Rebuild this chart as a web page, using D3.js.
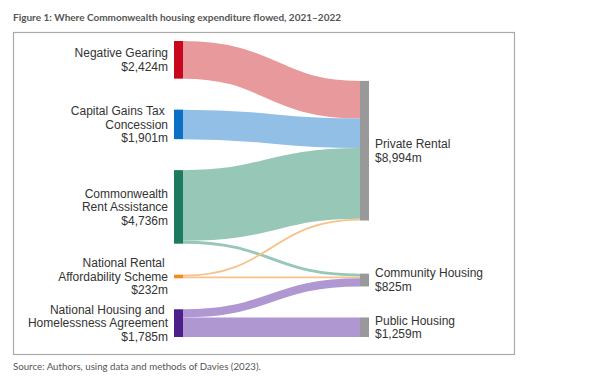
<!DOCTYPE html>
<html>
<head>
<meta charset="utf-8">
<script src="https://cdn.jsdelivr.net/npm/d3@7"></script>
<style>
  body { margin: 0; background: #fff; }
  svg { display: block; }
  .lbl { font-family: "Liberation Sans", Arial, sans-serif; font-size: 12px; fill: #333; white-space: pre; }
</style>
</head>
<body>
<svg id="chart" width="604" height="378"></svg>
<script>
// Data
const sourceNames = ["Negative Gearing", "Capital Gains Tax Concession", "Commonwealth Rent Assistance",
  "National Rental Affordability Scheme", "National Housing and Homelessness Agreement"]
const sourceLines = [["Negative Gearing"], ["Capital Gains Tax ", "Concession"], ["Commonwealth", "Rent Assistance"],
  ["National Rental ", "Affordability Scheme"], ["National Housing and ", "Homelessness Agreement"]]
const sourceColors = ["#c9071c", "#0b6fc6", "#1c7b5e", "#f58a1f", "#4c1f8b"]
const linkColors = ["#e8999b", "#91bfe6", "#97c8b7", "#f8c28d", "#af97d2"]

const targetNames = ["Private Rental", "Community Housing", "Public Housing"]

const flowSource = [0, 1, 2, 2, 3, 3, 4, 4]
const flowTarget = [0, 0, 0, 1, 0, 1, 1, 2]
const flowValue  = [2424, 1901, 4553, 183, 116, 116, 526, 1259]

// Layout
const svg = d3.select("#chart")
const yTop = 41, yBottom = 337, pad = 31
const colX = d3.scaleLinear().domain([0, 1]).range([174, 360])
const nodeW = 9

const sourceTotals = sourceNames.map((d, i) => d3.sum(flowValue.filter((v, j) => flowSource[j] === i)))
const targetTotals = targetNames.map((d, i) => d3.sum(flowValue.filter((v, j) => flowTarget[j] === i)))
const grand = d3.sum(sourceTotals)
let h = d3.scaleLinear().domain([0, grand]).range([0, yBottom - yTop - pad * (sourceNames.length - 1)])

// left column stacked
let sources = []
let y = yTop
sourceNames.forEach((n, i) => {
  sources.push({name: n, lines: sourceLines[i], value: sourceTotals[i], y0: y, y1: y + h(sourceTotals[i])})
  y += h(sourceTotals[i]) + pad
})

// right column: weighted centre of sources, then resolve overlaps
let targets = targetNames.map((n, i) => {
  let num = 0
  flowValue.forEach((v, j) => {
    if (flowTarget[j] === i) num += v * (sources[flowSource[j]].y0 + sources[flowSource[j]].y1) / 2
  })
  let c = num / targetTotals[i]
  let hh = h(targetTotals[i])
  return {name: n, lines: [n], value: targetTotals[i], y0: c - hh / 2, y1: c + hh / 2}
})
let yy = yTop
targets.forEach(t => {
  let dy = yy - t.y0
  if (dy > 0) { t.y0 += dy; t.y1 += dy }
  yy = t.y1 + pad
})
yy = yBottom
for (let i = targets.length - 1; i >= 0; i--) {
  let t = targets[i]
  let dy = t.y1 - yy
  if (dy > 0) { t.y0 -= dy; t.y1 -= dy }
  yy = t.y0 - pad
}

// links
let links = flowValue.map((v, j) => ({s: flowSource[j], t: flowTarget[j], value: v, w: h(v)}))
sources.forEach((s, i) => {
  let off = s.y0
  links.filter(l => l.s === i).sort((a, b) => targets[a.t].y0 - targets[b.t].y0)
    .forEach(l => { l.sy = off + l.w / 2; off += l.w })
})
targets.forEach((t, i) => {
  let off = t.y0
  links.filter(l => l.t === i).sort((a, b) => sources[a.s].y0 - sources[b.s].y0)
    .forEach(l => { l.ty = off + l.w / 2; off += l.w })
})

const fmt = v => "$" + d3.format(",")(v) + "m"

// frame + title + source
svg.append("text")
  .attr("x", 13).attr("y", 21)
  .attr("font-family", "Lato, 'Open Sans', sans-serif")
  .attr("font-weight", 700)
  .attr("font-size", 10)
  .attr("fill", "#555")
  .text("Figure 1: Where Commonwealth housing expenditure flowed, 2021–2022")

svg.append("rect")
  .attr("x", 13.5).attr("y", 32.5).attr("width", 501).attr("height", 322)
  .attr("fill", "none").attr("stroke", "#aaa").attr("stroke-width", 1.2)

svg.append("text")
  .attr("x", 13).attr("y", 369.5)
  .attr("font-family", "Lato, 'Open Sans', sans-serif")
  .attr("font-size", 9.7)
  .attr("fill", "#555")
  .text("Source: Authors, using data and methods of Davies (2023).")

let linkGen = d3.linkHorizontal()
svg.append("g").selectAll("path")
  .data(links)
  .join("path")
  .attr("d", l => linkGen({source: [colX(0) + nodeW, l.sy], target: [colX(1), l.ty]}))
  .attr("fill", "none")
  .attr("stroke", l => linkColors[l.s])
  .attr("stroke-width", l => Math.max(1, l.w))

svg.append("g").selectAll("rect")
  .data(sources)
  .join("rect")
  .attr("x", colX(0)).attr("width", nodeW)
  .attr("y", d => d.y0).attr("height", d => Math.max(2, d.y1 - d.y0))
  .attr("fill", (d, i) => sourceColors[i])

svg.append("g").selectAll("rect")
  .data(targets)
  .join("rect")
  .attr("x", colX(1)).attr("width", nodeW)
  .attr("y", d => d.y0).attr("height", d => d.y1 - d.y0)
  .attr("fill", "#999")

const lh = 13.5
function labels(data, x, anchor) {
  svg.append("g").selectAll("text")
    .data(data)
    .join("text")
    .attr("class", "lbl")
    .attr("text-anchor", anchor)
    .each(function(d) {
      let lines = d.lines.concat([fmt(d.value)])
      let c = (d.y0 + d.y1) / 2
      let first = c - (lines.length - 1) * lh / 2
      d3.select(this).selectAll("tspan")
        .data(lines)
        .join("tspan")
        .attr("x", x)
        .attr("y", (t, k) => first + k * lh)
        .attr("dy", "0.35em")
        .text(t => t)
    })
}
labels(sources, colX(0) - 6, "end")
labels(targets, colX(1) + nodeW + 6, "start")
</script>
</body>
</html>
